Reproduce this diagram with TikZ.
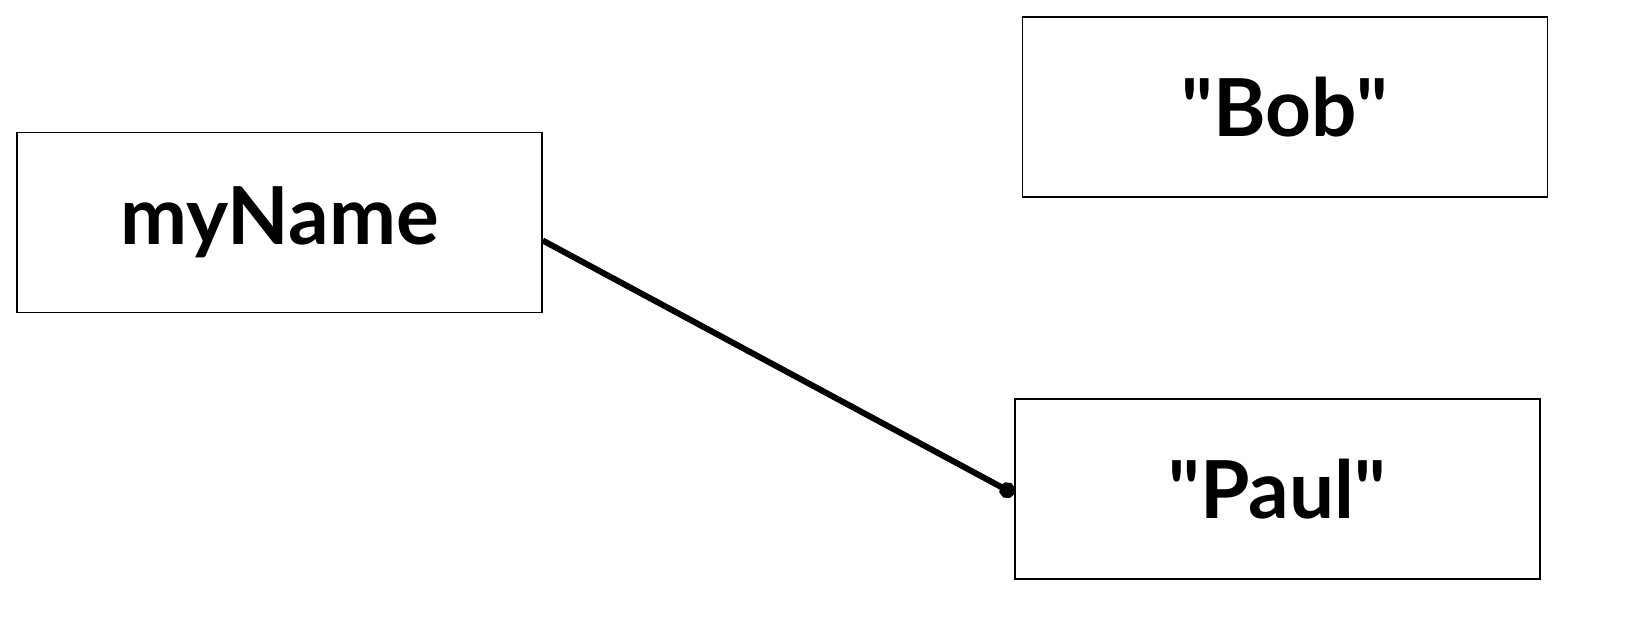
\documentclass[tikz,border=0pt]{standalone}
\usepackage{fontspec}
\setmainfont{Lato}
\usetikzlibrary{arrows.meta}

\begin{document}
\begin{tikzpicture}[x=1pt,y=1pt,yscale=-1,xscale=1,
  box/.style={draw,line width=1.5pt,minimum width=525pt,minimum height=180pt,
    inner sep=0pt,font=\fontsize{80}{84}\selectfont\bfseries}]
\useasboundingbox (0,0) rectangle (1638,626);

% Boxes
\node[box] (myName) at (279.5,222.5) {myName};
\node[box] (bob) at (1285,107) {\textquotedbl Bob\textquotedbl};
\node[box] (paul) at (1277.5,489) {\textquotedbl Paul\textquotedbl};

% Reference
\draw [line width=6pt,-{Circle[length=16pt]}] ([yshift=18pt]myName.east) -- ([yshift=5pt]paul.west);

\end{tikzpicture}
\end{document}
